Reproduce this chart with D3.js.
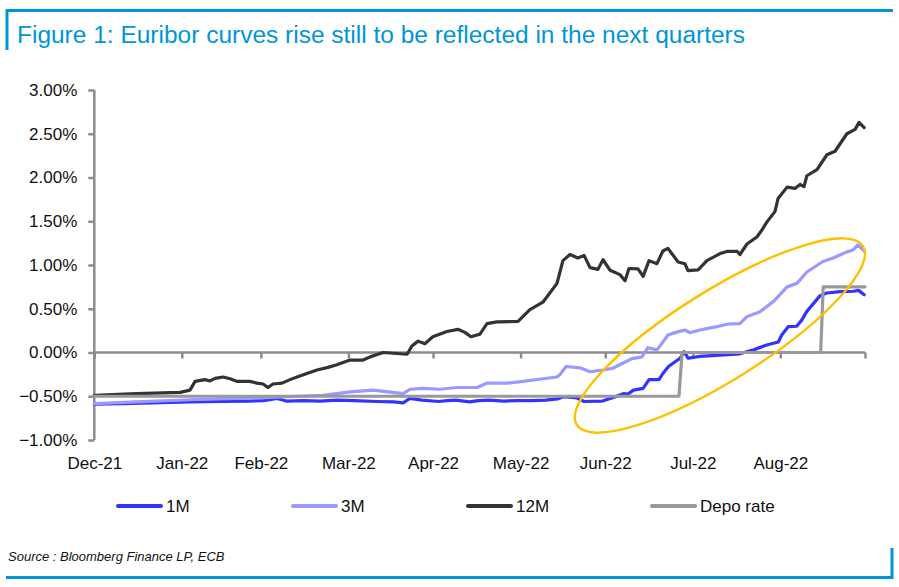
<!DOCTYPE html>
<html><head><meta charset="utf-8">
<script src="https://cdn.jsdelivr.net/npm/d3@7"></script>
<style>body{margin:0;background:#fff} svg{display:block}</style>
</head><body>
<svg id="c" width="899" height="587"></svg>
<script>
// ---- data (x = day index from the chart's first point, y = rate in %) ----
const tickDays = [0, 31, 59, 90, 120, 151, 181, 212, 243, 273];
const tickLabels = ["Dec-21","Jan-22","Feb-22","Mar-22","Apr-22","May-22","Jun-22","Jul-22","Aug-22",""];
const yTicks = [-1, -0.5, 0, 0.5, 1, 1.5, 2, 2.5, 3];
const seriesNames = ["1M", "3M", "12M", "Depo rate"];
const seriesColors = ["#3333ff", "#9999ff", "#333333", "#999999"];

const euribor1M = [[0,-0.59],[10,-0.585],[20,-0.575],[34,-0.565],[45,-0.56],[55,-0.555],[60,-0.55],[64.7,-0.525],[68,-0.555],[74,-0.55],[80,-0.555],[86,-0.545],[92,-0.55],[100,-0.56],[106,-0.565],[109.4,-0.575],[111.8,-0.525],[116,-0.545],[122,-0.56],[125,-0.55],[128,-0.545],[133,-0.565],[136,-0.55],[140,-0.545],[145,-0.555],[150,-0.55],[155,-0.55],[160,-0.545],[164,-0.53],[166.2,-0.505],[171,-0.52],[173.5,-0.56],[180,-0.555],[183.3,-0.52],[187.6,-0.47],[189,-0.475],[191,-0.43],[194.4,-0.41],[196.5,-0.31],[200,-0.31],[201.4,-0.24],[203.4,-0.16],[205.1,-0.12],[207.5,-0.066],[208.9,0.01],[210.4,-0.066],[214.5,-0.045],[221.6,-0.03],[228.7,-0.015],[233.5,0.03],[238.2,0.086],[242.3,0.12],[243.5,0.2],[245.8,0.295],[248.8,0.30],[250.6,0.37],[252.4,0.47],[257.1,0.65],[259.5,0.68],[264.2,0.695],[269,0.70],[270.7,0.71],[272.7,0.66]];

const euribor3M = [[0,-0.585],[15,-0.565],[34,-0.54],[50,-0.525],[64.7,-0.51],[72,-0.5],[81,-0.49],[90.6,-0.45],[98.7,-0.43],[104,-0.45],[109.4,-0.47],[111.8,-0.42],[116.4,-0.41],[122.4,-0.42],[128.5,-0.40],[135.6,-0.40],[139.1,-0.35],[146.2,-0.35],[151.9,-0.33],[158.9,-0.30],[163.9,-0.28],[165,-0.25],[167.1,-0.16],[172.1,-0.175],[175.6,-0.22],[180.2,-0.20],[183.7,-0.18],[187.3,-0.12],[190.5,-0.07],[194,-0.05],[196.1,0.055],[199.3,0.03],[201.1,0.105],[203.2,0.20],[206,0.23],[209.2,0.257],[210.9,0.226],[214.5,0.257],[220.5,0.295],[224.5,0.326],[228.7,0.33],[231.2,0.41],[235.8,0.466],[240.8,0.59],[245.4,0.75],[248.9,0.79],[252.4,0.92],[258.1,1.04],[261.7,1.08],[266.6,1.15],[268.7,1.17],[270.5,1.23],[272.7,1.16]];

const euribor12M = [[0,-0.49],[15,-0.47],[30.4,-0.455],[33.9,-0.43],[35.7,-0.33],[39.2,-0.31],[41,-0.325],[42.8,-0.295],[45.6,-0.28],[48.1,-0.30],[50.5,-0.33],[55.1,-0.33],[57.6,-0.35],[59.8,-0.36],[61.5,-0.40],[63.3,-0.36],[66.5,-0.35],[69.3,-0.31],[71.8,-0.28],[75.3,-0.24],[78.9,-0.20],[82.8,-0.17],[85.9,-0.14],[90.6,-0.086],[95.2,-0.086],[97.7,-0.05],[102.3,0.0],[110.8,-0.02],[112.5,0.075],[114.7,0.13],[117.1,0.10],[119.9,0.18],[124.9,0.24],[128.8,0.265],[131.3,0.23],[133.4,0.18],[136.6,0.21],[139.1,0.33],[142.6,0.35],[150.1,0.355],[154.3,0.49],[158.9,0.575],[163.9,0.79],[166,1.05],[168.5,1.12],[171.3,1.08],[173.5,1.11],[175.6,0.97],[178.4,0.95],[180.2,1.06],[182.7,0.94],[186.2,0.89],[188,0.82],[189.4,0.96],[192.6,0.955],[194.4,0.87],[196.5,1.05],[199.3,1.015],[201.4,1.16],[203.2,1.19],[206.8,1.035],[209.2,1.015],[210.3,0.935],[213.9,0.945],[217,1.05],[222,1.135],[224.1,1.155],[227.7,1.155],[228.7,1.12],[231.2,1.24],[234.7,1.32],[236.5,1.40],[238.2,1.49],[241.1,1.61],[242.2,1.76],[245.4,1.89],[248.2,1.875],[250,1.92],[251.4,1.895],[252.4,2.02],[256,2.09],[259.5,2.26],[262.4,2.30],[264.9,2.42],[266.6,2.50],[269.5,2.55],[270.9,2.63],[272.7,2.57]];

const depoRate = [[0,-0.5],[207.1,-0.5],[208.2,0],[257.3,0],[258.2,0.75],[273,0.75]];

// annotation ellipse: centre in data units
const ellipseCentre = [221.6, 0.194];

// ---- drawing ----
const svg = d3.select("#c");
const font = "'Liberation Sans', Arial, sans-serif";
const blue = "#0096d6";

const x = d3.scaleLinear().domain([0, 273]).range([94.3, 865]);
const y = d3.scaleLinear().domain([-1, 3]).range([440, 90]);

// frame
svg.append("line").attr("x1",6).attr("x2",893).attr("y1",10.5).attr("y2",10.5).attr("stroke",blue).attr("stroke-width",3);
svg.append("line").attr("x1",7).attr("x2",7).attr("y1",9).attr("y2",50).attr("stroke",blue).attr("stroke-width",3);
svg.append("line").attr("x1",6).attr("x2",893).attr("y1",577.5).attr("y2",577.5).attr("stroke",blue).attr("stroke-width",3);
svg.append("line").attr("x1",892).attr("x2",892).attr("y1",548).attr("y2",579).attr("stroke",blue).attr("stroke-width",3);

svg.append("text").attr("x",17).attr("y",43).attr("fill",blue)
  .style("font-family",font).style("font-size","23px")
  .attr("textLength",728).attr("lengthAdjust","spacingAndGlyphs")
  .text("Figure 1: Euribor curves rise still to be reflected in the next quarters");

const axisColor = "#8c8c8c";
// y axis
const yAxis = svg.append("g").attr("transform",`translate(${x(0)},0)`)
  .call(d3.axisLeft(y).tickValues(yTicks).tickSize(6).tickFormat(d => d3.format(".2f")(d) + "%"));
yAxis.select(".domain").attr("stroke",axisColor).attr("stroke-width",2.5).attr("d",`M0,${y(3)}V${y(-1)}`);
yAxis.selectAll(".tick line").attr("stroke",axisColor).attr("stroke-width",2.5);
yAxis.selectAll(".tick text").attr("x",-17).attr("fill","#111").style("font-family",font).style("font-size","17px");

// x axis at zero
const xAxis = svg.append("g").attr("transform",`translate(0,${y(0)})`)
  .call(d3.axisBottom(x).tickValues(tickDays).tickSize(6).tickFormat((d,i) => tickLabels[i]));
xAxis.select(".domain").attr("stroke",axisColor).attr("stroke-width",2.5).attr("d",`M${x(0)},0H${x(273)}`);
xAxis.selectAll(".tick line").attr("stroke",axisColor).attr("stroke-width",2.5);
xAxis.selectAll(".tick text").attr("y", 0).attr("dy",0)
  .attr("transform",`translate(0,${469 - y(0)})`)
  .attr("fill","#111").style("font-family",font).style("font-size","17px");

// series
const line = d3.line().x(d => x(d[0])).y(d => y(d[1]));
const allSeries = [euribor1M, euribor3M, euribor12M, depoRate];
allSeries.forEach((s, i) => {
  svg.append("path").datum(s).attr("d", line).attr("fill","none")
    .attr("stroke", seriesColors[i]).attr("stroke-width", 3.2)
    .attr("stroke-linejoin","round").attr("stroke-linecap","round");
});

// ellipse annotation
svg.append("ellipse").attr("cx", x(ellipseCentre[0])).attr("cy", y(ellipseCentre[1]))
  .attr("rx",168.7).attr("ry",45)
  .attr("transform",`rotate(-32 ${x(ellipseCentre[0])} ${y(ellipseCentre[1])})`)
  .attr("fill","none").attr("stroke","#ffc000").attr("stroke-width",2.4);

// legend
const legendX = [118, 293, 468, 652];
seriesNames.forEach((n, i) => {
  const g = svg.append("g").attr("transform",`translate(${legendX[i]},506)`);
  g.append("line").attr("x1",0).attr("x2",43).attr("stroke",seriesColors[i]).attr("stroke-width",4).attr("stroke-linecap","round");
  g.append("text").attr("x",48).attr("y",6).attr("fill","#111").style("font-family",font).style("font-size","17px").text(n);
});

// source
svg.append("text").attr("x",8).attr("y",561).attr("fill","#111")
  .style("font-family",font).style("font-size","13px").style("font-style","italic")
  .text("Source : Bloomberg Finance LP, ECB");
</script>
</body></html>
